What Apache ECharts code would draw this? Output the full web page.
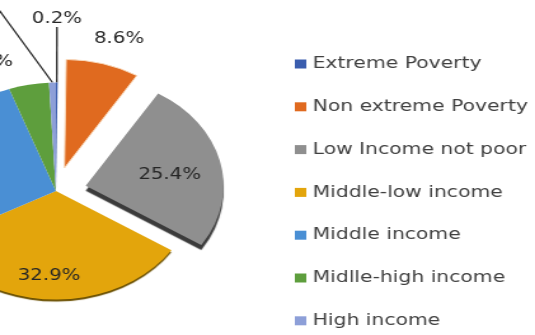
<!DOCTYPE html>
<html>
<head>
<meta charset="utf-8">
<script src="https://cdn.jsdelivr.net/npm/echarts@6/dist/echarts.min.js"></script>
<style>
html,body{margin:0;padding:0;background:#ffffff;overflow:hidden;width:535px;height:335px;}
#chart{width:421px;height:335px;transform:scaleX(1.2708);transform-origin:0 0;}
</style>
</head>
<body>
<div id="chart"></div>
<script>
// ---- data ----
const categories = ['Extreme Poverty', 'Non extreme Poverty', 'Low Income not poor', 'Middle-low income', 'Middle income', 'Midlle-high income', 'High income'];
const shares = [0.2, 8.6, 25.4, 32.9, 27.4, 4.7, 0.8];
const exploded = [false, true, true, false, false, false, false];

// ---- styles ----
const colors = ['#3A5DAE', '#E06A1F', '#8F8F8F', '#E3A50C', '#4A8FD4', '#5E9E3D', '#8D9FD8'];
const labelAnchors = [[44.8, 19], [93.7, 39], [133.5, 175], [38.6, 276], [-70, 175], [-9.5, 62], [-32, -10]];
const showLeader = [true, false, false, false, false, false, true];
const depthStyle = [null, null, { c: '#3b3b3b', h: 5 }, { c: '#6b5000', h: 2 }, null, null, null];
const edgeStyle = [null, { c: '#F8D9BC', w: 1 }, null, null, null, null, null];

const chart = echarts.init(document.getElementById('chart'), null, { renderer: 'canvas', width: 421, height: 335 });

const sliceData = categories.map((name, i) => {
  const itemStyle = { color: colors[i] };
  if (depthStyle[i]) {
    itemStyle.shadowColor = depthStyle[i].c;
    itemStyle.shadowBlur = 1;
    itemStyle.shadowOffsetY = depthStyle[i].h;
  }
  if (edgeStyle[i]) {
    itemStyle.borderColor = edgeStyle[i].c;
    itemStyle.borderWidth = edgeStyle[i].w;
  }
  return { name: name, value: shares[i], selected: exploded[i], itemStyle: itemStyle };
});

const labelData = categories.map((name, i) => ({
  name: name,
  value: shares[i],
  labelLine: { show: showLeader[i], length: 10, length2: 0 }
}));

const pieCenter = [44, 191];
const pieRadius = 108.5;

chart.setOption({
  animation: false,
  color: colors,
  legend: {
    orient: 'vertical',
    left: 232,
    top: 56,
    height: 279,
    padding: 0,
    itemWidth: 9,
    itemHeight: 9,
    itemGap: 26.8,
    icon: 'rect',
    selectedMode: false,
    data: categories,
    itemStyle: { shadowBlur: 0, shadowOffsetY: 0, shadowColor: 'rgba(0,0,0,0)', borderWidth: 0 },
    textStyle: { fontFamily: 'DejaVu Sans', fontSize: 16, color: '#404040' }
  },
  series: [{
    type: 'pie',
    name: 'slices',
    center: pieCenter,
    radius: pieRadius,
    startAngle: 90,
    clockwise: true,
    selectedMode: 'multiple',
    selectedOffset: 24,
    avoidLabelOverlap: false,
    emphasis: { disabled: true },
    label: { show: false },
    labelLine: { show: false },
    data: sliceData
  }, {
    type: 'pie',
    name: 'labels',
    center: pieCenter,
    radius: pieRadius,
    startAngle: 90,
    clockwise: true,
    silent: true,
    selectedMode: false,
    avoidLabelOverlap: false,
    emphasis: { disabled: true },
    itemStyle: { color: 'rgba(0,0,0,0)', borderWidth: 0 },
    data: labelData,
    label: {
      show: true,
      formatter: function (p) { return p.value + '%'; },
      fontFamily: 'DejaVu Sans',
      fontSize: 15.5,
      color: '#262626'
    },
    labelLine: { lineStyle: { color: '#262626', width: 1.3 } },
    labelLayout: function (p) {
      const a = labelAnchors[p.dataIndex];
      return { x: a[0], y: a[1], align: 'center', verticalAlign: 'middle' };
    }
  }]
});
</script>
</body>
</html>
